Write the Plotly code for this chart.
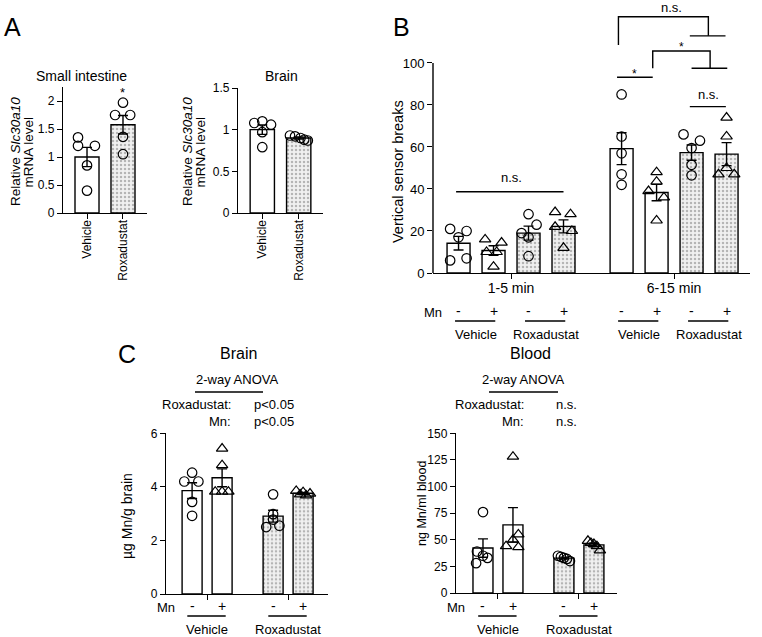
import numpy as np
import plotly.graph_objects as go

W, H = 762, 637
FONT = "Liberation Sans, Arial, Helvetica, sans-serif"

# ---------------- data ----------------
# Panel A: relative Slc30a10 mRNA level
a_categories = ["Vehicle", "Roxadustat"]
a_intestine_vehicle = [1.35, 1.2, 1.2, 0.85, 0.4]
a_intestine_roxa = [1.97, 1.75, 1.75, 1.36, 1.05]
a_brain_vehicle = [1.08, 1.1, 1.06, 0.97, 0.79]
a_brain_roxa = [0.93, 0.92, 0.90, 0.88, 0.87]

# Panel B: vertical sensor breaks
b_periods = ["1-5 min", "6-15 min"]
b_treatments = ["Vehicle", "Roxadustat"]
b_mn = ["-", "+"]
b_early_veh_minus = [21, 20, 17, 6, 7]
b_early_veh_plus = [16, 14.5, 10, 10, 3]
b_early_rox_minus = [28, 23, 19, 17, 8]
b_early_rox_plus = [29, 28, 22, 20, 12]
b_late_veh_minus = [85, 65, 57, 47, 42]
b_late_veh_plus = [48, 43.5, 39, 36, 25]
b_late_rox_minus = [66, 63, 59.5, 51.5, 46.5]
b_late_rox_plus = [74, 65, 50, 47, 47]

# Panel C: Mn levels
c_brain_veh_minus = [4.53, 4.2, 4.2, 3.44, 2.92]
c_brain_veh_plus = [5.43, 4.81, 3.82, 3.82, 3.82]
c_brain_rox_minus = [3.72, 2.98, 2.78, 2.5, 2.55]
c_brain_rox_plus = [3.85, 3.8, 3.75, 3.72, 3.68]
c_blood_veh_minus = [76, 39, 35, 33, 28]
c_blood_veh_plus = [128, 55, 50, 44, 43]
c_blood_rox_minus = [35, 34, 33, 32, 30]
c_blood_rox_plus = [49, 47, 46, 44, 40]

c_stats_brain = ["p<0.05", "p<0.05"]
c_stats_blood = ["n.s.", "n.s."]

# ---------------- helpers ----------------
def px(x):
    return x / W


def py(y):
    return 1 - y / H


fig = go.Figure()


def bar_group(xa, ya, pos, pts, jit, sym, dotted, width):
    m = float(np.mean(pts))
    s = float(np.std(pts, ddof=1) / np.sqrt(len(pts)))
    marker = dict(color="white", line=dict(color="black", width=1.4))
    if dotted:
        marker = dict(color="#ededed", line=dict(color="black", width=1.4),
                      pattern=dict(shape=".", fgcolor="#7a7a7a", bgcolor="#f0f0f0",
                                   size=4, solidity=0.3))
    fig.add_trace(go.Bar(
        x=[pos], y=[m], width=width, marker=marker,
        error_y=dict(type="data", array=[s], visible=True, color="black",
                     thickness=1.4, width=5),
        xaxis=xa, yaxis=ya, hoverinfo="skip"))
    fig.add_trace(go.Scatter(
        x=[pos + j for j in jit], y=pts, mode="markers",
        marker=dict(symbol=sym, size=9.5 if "circle" in sym else 10, color="black",
                    line=dict(color="black", width=1.2)),
        xaxis=xa, yaxis=ya, cliponaxis=False, hoverinfo="skip"))


CIRC = "circle-open"
TRI = "triangle-up-open"

# Panel A
a_pos = [0, 1]
a_w = 0.667
bar_group("x", "y", a_pos[0], a_intestine_vehicle, [-0.25, -0.25, 0.22, 0, 0], CIRC, False, a_w)
bar_group("x", "y", a_pos[1], a_intestine_roxa, [0, -0.22, 0.2, 0, 0], CIRC, True, a_w)
bar_group("x2", "y2", a_pos[0], a_brain_vehicle, [-0.22, 0, 0.24, 0, 0], CIRC, False, a_w)
bar_group("x2", "y2", a_pos[1], a_brain_roxa, [-0.24, -0.1, 0.05, 0.15, 0.25], CIRC, True, a_w)

# Panel B
b_pos = [0, 1, 2, 3, 4.66, 5.66, 6.66, 7.66]
b_w = 0.657
b_sets = [
    (b_early_veh_minus, [-0.24, 0.23, 0, -0.24, 0.23], CIRC, False),
    (b_early_veh_plus, [-0.24, 0.23, -0.2, 0.09, 0], TRI, False),
    (b_early_rox_minus, [0, 0.23, -0.2, 0, 0], CIRC, True),
    (b_early_rox_plus, [-0.24, 0.2, -0.24, 0.24, 0], TRI, True),
    (b_late_veh_minus, [0, 0, 0, 0, 0], CIRC, False),
    (b_late_veh_plus, [0, 0, -0.23, 0.21, 0], TRI, False),
    (b_late_rox_minus, [-0.23, 0.24, 0, 0, 0], CIRC, True),
    (b_late_rox_plus, [0, 0, 0, -0.23, 0.22], TRI, True),
]
for p, (pts, jit, sym, dot) in zip(b_pos, b_sets):
    bar_group("x3", "y3", p, pts, jit, sym, dot, b_w)

# Panel C
c_pos = [0, 1, 2.7, 3.7]
c_w = 0.667
c_brain_sets = [
    (c_brain_veh_minus, [0, -0.26, 0.21, 0, 0], CIRC, False),
    (c_brain_veh_plus, [0, 0, -0.23, 0, 0.21], TRI, False),
    (c_brain_rox_minus, [0, 0, 0, -0.23, 0.21], CIRC, True),
    (c_brain_rox_plus, [-0.23, 0, 0.23, -0.1, 0.1], TRI, True),
]
for p, (pts, jit, sym, dot) in zip(c_pos, c_brain_sets):
    bar_group("x4", "y4", p, pts, jit, sym, dot, c_w)
c_blood_sets = [
    (c_blood_veh_minus, [0, -0.2, 0, 0.15, -0.23], CIRC, False),
    (c_blood_veh_plus, [0, 0.18, 0, -0.23, 0.18], TRI, False),
    (c_blood_rox_minus, [-0.2, -0.1, 0, 0.1, 0.2], CIRC, True),
    (c_blood_rox_plus, [-0.2, -0.1, 0, 0.1, 0.2], TRI, True),
]
for p, (pts, jit, sym, dot) in zip(c_pos, c_blood_sets):
    bar_group("x5", "y5", p, pts, jit, sym, dot, c_w)

# ---------------- axes ----------------
AX = dict(showgrid=False, zeroline=False, showline=True, linecolor="black", linewidth=1.4,
          ticks="outside", ticklen=5, tickwidth=1.4, tickcolor="black", automargin=False,
          tickfont=dict(family=FONT, size=12, color="black"))

layout = dict(
    width=W, height=H, margin=dict(l=0, r=0, t=0, b=0, pad=0), autosize=False,
    paper_bgcolor="white", plot_bgcolor="rgba(0,0,0,0)",
    showlegend=False, barmode="overlay",
    font=dict(family=FONT, color="black"),
    xaxis=dict(AX, domain=[px(63), px(147)], range=[-0.667, 1.667], anchor="y",
               tickvals=a_pos, ticktext=a_categories, tickangle=-90, ticklabelstandoff=-4),
    yaxis=dict(AX, domain=[py(213), py(87)], range=[0, 2.25], anchor="x",
               tickvals=[0, 0.5, 1, 1.5, 2], ticktext=["0", "0.5", "1", "1.5", "2"]),
    xaxis2=dict(AX, domain=[px(238), px(323)], range=[-0.667, 1.667], anchor="y2",
                tickvals=a_pos, ticktext=a_categories, tickangle=-90, ticklabelstandoff=-4),
    yaxis2=dict(AX, domain=[py(213), py(88)], range=[0, 1.5], anchor="x2",
                tickvals=[0, 0.5, 1, 1.5], ticktext=["0", "0.5", "1", "1.5"]),
    xaxis3=dict(AX, domain=[px(433), px(750)], range=[-0.73, 8.33], anchor="y3",
                tickvals=[1.5, 6.16], ticktext=b_periods, ticklabelstandoff=-3,
                tickfont=dict(family=FONT, size=14, color="black")),
    yaxis3=dict(AX, domain=[py(273), py(5)], range=[0, 127.6], anchor="x3", showline=False,
                tickvals=[0, 20, 40, 60, 80, 100],
                tickfont=dict(family=FONT, size=13, color="black")),
    xaxis4=dict(AX, domain=[px(166), px(328)], range=[-0.87, 4.53], anchor="y4",
                tickvals=[0.5, 3.2], showticklabels=False),
    yaxis4=dict(AX, domain=[py(594), py(433.3)], range=[0, 6], anchor="x4",
                tickvals=[0, 2, 4, 6]),
    xaxis5=dict(AX, domain=[px(456), px(617)], range=[-0.9, 4.47], anchor="y5",
                tickvals=[0.5, 3.17], showticklabels=False),
    yaxis5=dict(AX, domain=[py(593), py(433.3)], range=[0, 150], anchor="x5",
                tickvals=[0, 25, 50, 75, 100, 125, 150]),
)
fig.update_layout(**layout)

shapes = []
ann = []


def line(x0, y0, x1, y1, xref, yref, w=1.4):
    shapes.append(dict(type="line", x0=x0, y0=y0, x1=x1, y1=y1, xref=xref, yref=yref,
                       line=dict(color="black", width=w)))


def path(pts, xref, yref):
    d = "M " + " L ".join(f"{a},{b}" for a, b in pts)
    shapes.append(dict(type="path", path=d, xref=xref, yref=yref,
                       line=dict(color="black", width=1.4)))


def text(t, x, y, xref="paper", yref="paper", size=13, xanchor="center", yanchor="middle",
         angle=0):
    ann.append(dict(text=t, x=x, y=y, xref=xref, yref=yref, showarrow=False,
                    xanchor=xanchor, yanchor=yanchor, textangle=angle,
                    font=dict(family=FONT, size=size, color="black")))


# Panel letters
text("A", px(12), py(27), size=25)
text("B", px(401), py(27), size=25)
text("C", px(127), py(354), size=25)

# Panel A titles & y labels
text("Small intestine", px(81), py(76), size=14)
text("Brain", px(281), py(76), size=14)
for xc in (15, 187):
    text("Relative <i>Slc30a10</i>", px(xc), py(152), size=13.5, angle=-90)
    text("mRNA level", px(xc + 12.5), py(152), size=13.5, angle=-90)
text("*", a_pos[1], 2.16, "x", "y", size=13)

# Panel B y label, axis line, brackets
text("Vertical sensor breaks", px(398), py(172), size=14.5, angle=-90)
line(0, 0, 0, 100, "x3 domain", "y3")
line(-0.07, 38.7, 3.0, 38.7, "x3", "y3")
text("n.s.", 1.5, 45.7, "x3", "y3", size=13)
line(4.53, 93.2, 5.55, 93.2, "x3", "y3")
text("*", 5.04, 94.8, "x3", "y3", size=12)
path([(5.55, 97.5), (5.55, 105.7), (7.19, 105.7), (7.19, 97.5)], "x3", "y3")
line(6.66, 97.5, 7.68, 97.5, "x3", "y3")
text("*", 6.36, 107.6, "x3", "y3", size=12)
path([(4.57, 108.6), (4.57, 122.0), (7.14, 122.0), (7.14, 112.9)], "x3", "y3")
line(6.61, 112.9, 7.63, 112.9, "x3", "y3")
text("n.s.", 6.09, 126.5, "x3", "y3", size=13)
line(6.61, 79.2, 7.64, 79.2, "x3", "y3")
text("n.s.", 7.13, 84.8, "x3", "y3", size=13)

# Panel B Mn rows
text("Mn", 0, py(312), "x3 domain", "paper", size=13)
for i, p in enumerate(b_pos):
    text(b_mn[i % 2], p, py(311), "x3", "paper", size=14)
for g in range(4):
    p0, p1 = b_pos[2 * g], b_pos[2 * g + 1]
    line(p0 - 0.1, py(321), p1 + 0.05, py(321), "x3", "paper", w=1.3)
    text(b_treatments[g % 2], (p0 + p1) / 2, py(334), "x3", "paper", size=13)

# Panel C titles and stats
text("Brain", px(238), py(353), size=16)
text("Blood", px(530), py(353), size=16)
for (cx, rx, lx, x0u, x1u, stats) in ((237, 233, 252, 195, 263, c_stats_brain),
                                      (523, 526, 554, 489, 558, c_stats_blood)):
    text("2-way ANOVA", px(cx), py(379), size=13)
    line(px(x0u), py(392), px(x1u), py(392), "paper", "paper", w=1.3)
    text("Roxadustat:", px(rx), py(404), size=13, xanchor="right")
    text(stats[0], px(lx), py(404), size=13, xanchor="left")
    text("Mn:", px(rx), py(421), size=13, xanchor="right")
    text(stats[1], px(lx), py(421), size=13, xanchor="left")

text("µg Mn/g brain", px(127), py(516), size=14, angle=-90)
text("ng Mn/ml blood", px(422), py(503), size=12.5, angle=-90)

for xa in ("x4", "x5"):
    text("Mn", 0, py(607), xa + " domain", "paper", size=13)
    for i, p in enumerate(c_pos):
        text(b_mn[i % 2], p, py(606), xa, "paper", size=14)
    for g in range(2):
        p0, p1 = c_pos[2 * g], c_pos[2 * g + 1]
        line(p0 - 0.16, py(616), p1 + 0.12, py(616), xa, "paper", w=1.3)
        text(b_treatments[g], (p0 + p1) / 2, py(629), xa, "paper", size=13)

fig.update_layout(shapes=shapes, annotations=ann)
fig.write_html("out.html", config={"displayModeBar": False},
               post_script="document.body.style.margin='0px';document.body.style.padding='0px';")
